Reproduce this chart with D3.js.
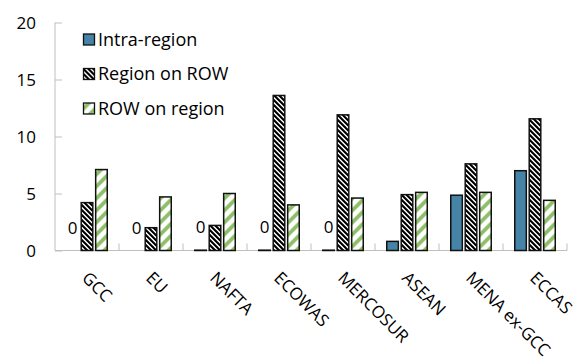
<!DOCTYPE html>
<html>
<head>
<meta charset="utf-8">
<script src="https://d3js.org/d3.v7.min.js"></script>
<style>
  html, body { margin: 0; padding: 0; background: #fff; }
  svg { display: block; font-family: "Open Sans", "Noto Sans", sans-serif; }
</style>
</head>
<body>
<svg id="chart" width="577" height="360"></svg>
<script>
const categories = ["GCC", "EU", "NAFTA", "ECOWAS", "MERCOSUR", "ASEAN", "MENA ex-GCC", "ECCAS"];
const seriesNames = ["Intra-region", "Region on ROW", "ROW on region"];
const intraRegion = [0, 0, 0.03, 0.03, 0.03, 0.8, 4.85, 7.0];
const regionOnROW = [4.2, 2.0, 2.2, 13.6, 11.9, 4.9, 7.6, 11.55];
const rowOnRegion = [7.1, 4.7, 5.0, 4.0, 4.6, 5.1, 5.1, 4.4];
const yTicks = [0, 5, 10, 15, 20];

const seriesValues = [intraRegion, regionOnROW, rowOnRegion];
const svg = d3.select("#chart");

const defs = svg.append("defs");
// black downward diagonal stripes
const p1 = defs.append("pattern").attr("id", "pDark").attr("patternUnits", "userSpaceOnUse")
  .attr("width", 5).attr("height", 5);
p1.append("rect").attr("width", 5).attr("height", 5).attr("fill", "#fff");
p1.append("path").attr("d", "M-1,-1 L6,6 M-1,4 L1,6 M4,-1 L6,1")
  .attr("stroke", "#000").attr("stroke-width", 1.5).attr("shape-rendering", "crispEdges");
// wide green upward diagonal
const p2 = defs.append("pattern").attr("id", "pGreen").attr("patternUnits", "userSpaceOnUse")
  .attr("width", 12).attr("height", 12);
p2.append("rect").attr("width", 12).attr("height", 12).attr("fill", "#fff");
p2.append("path").attr("d", "M-3,15 L15,-3 M-3,3 L3,-3 M9,15 L15,9").attr("stroke", "#8cbf68").attr("stroke-width", 3.8);

const fills = ["#4584a7", "url(#pDark)", "url(#pGreen)"];

const x0 = d3.scaleBand().domain(categories).range([55, 567]).padding(0);
const groupW = 40.5;
const x1 = d3.scaleBand().domain(seriesNames).range([0, groupW]).paddingInner(0.2);
const y = d3.scaleLinear().domain([0, 20]).range([250.5, 22.5]);

// axes
const axisColor = "#bfbfbf";
const yAxis = svg.append("g").attr("transform", "translate(55,0)")
  .call(d3.axisRight(y).tickValues(yTicks).tickSize(7).tickFormat(""));
yAxis.select(".domain").attr("stroke", axisColor).attr("d", `M0,${y(20)}V${y(0)}`);
yAxis.selectAll(".tick line").attr("stroke", axisColor);

svg.append("g").selectAll("text").data(yTicks).join("text")
  .attr("x", 36).attr("y", d => y(d)).attr("dy", "0.36em")
  .attr("text-anchor", "end").attr("font-size", 17).attr("fill", "#000")
  .text(d => d);

const xTickPos = categories.map(c => x0(c)).concat([x0.range()[1]]);
const xAxis = svg.append("g");
xAxis.append("line").attr("x1", 55).attr("x2", 567).attr("y1", y(0)).attr("y2", y(0))
  .attr("stroke", axisColor);
xAxis.selectAll("line.t").data(xTickPos.slice(1)).join("line").attr("class", "t")
  .attr("x1", d => d).attr("x2", d => d).attr("y1", y(0)).attr("y2", y(0) - 7)
  .attr("stroke", axisColor);

// bars
const groups = svg.append("g").selectAll("g").data(categories).join("g")
  .attr("transform", c => `translate(${x0(c) + (x0.bandwidth() - groupW) / 2},0)`);

groups.selectAll("rect").data((c, i) => seriesNames.map((s, k) => ({ s, k, v: seriesValues[k][i] })))
  .join("rect")
  .filter(d => d.v > 0)
  .attr("x", d => x1(d.s))
  .attr("width", x1.bandwidth())
  .attr("y", d => y(d.v))
  .attr("height", d => Math.max(0, y(0) - y(d.v)))
  .attr("fill", d => fills[d.k])
  .attr("stroke", "#111")
  .attr("stroke-width", 1.5);

// data labels "0"
groups.append("text")
  .attr("x", x1(seriesNames[0]) + x1.bandwidth() / 2)
  .attr("y", (c, i) => y(intraRegion[i]) - 17)
  .attr("text-anchor", "middle").attr("font-size", 17).attr("fill", "#000")
  .text((c, i) => intraRegion[i] < 0.5 ? d3.format(".0f")(intraRegion[i]) : "");

// category labels
svg.append("g").selectAll("text").data(categories).join("text")
  .attr("transform", c => `translate(${x0(c) + x0.bandwidth() / 2 - 6},279) rotate(45)`)
  .attr("font-size", 17).attr("fill", "#000")
  .text(c => c);

// legend
const legend = svg.append("g").selectAll("g").data(seriesNames).join("g")
  .attr("transform", (d, i) => `translate(83.5,${39.5 + i * 34.5})`);
legend.append("rect").attr("x", 0).attr("y", -5.5).attr("width", 11).attr("height", 11)
  .attr("fill", (d, i) => fills[i]).attr("stroke", "#111").attr("stroke-width", 1.3);
legend.append("text").attr("x", 14.5).attr("y", 0).attr("dy", "0.36em")
  .attr("font-size", 18).attr("fill", "#000").text(d => d);
</script>
</body>
</html>
